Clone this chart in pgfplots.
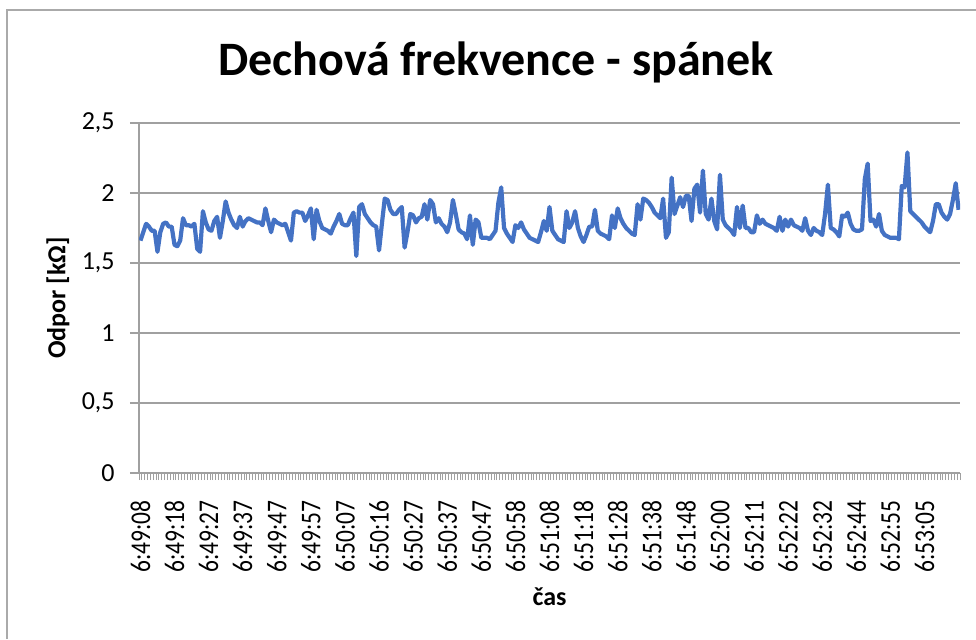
\documentclass[border=0pt]{standalone}
\usepackage{fontspec}
\setmainfont{Carlito}
\newfontfamily\tickfont{Carlito}[FakeStretch=0.82]
\usepackage{pgfplots}
\pgfplotsset{compat=1.18}
\usepackage{pgfplotstable}

\definecolor{exblue}{HTML}{4472C4}
\definecolor{gridgray}{RGB}{160,160,160}
\definecolor{framegray}{RGB}{170,170,170}

% one value per sample
\pgfplotstableread{
v
1.66
1.72
1.78
1.76
1.73
1.73
1.58
1.72
1.78
1.79
1.76
1.76
1.63
1.62
1.66
1.82
1.77
1.77
1.76
1.78
1.60
1.58
1.87
1.79
1.74
1.73
1.80
1.83
1.68
1.80
1.94
1.86
1.81
1.77
1.75
1.83
1.76
1.80
1.82
1.81
1.80
1.79
1.79
1.77
1.89
1.80
1.72
1.81
1.79
1.78
1.77
1.78
1.72
1.66
1.86
1.87
1.86
1.86
1.80
1.84
1.89
1.67
1.88
1.80
1.75
1.74
1.73
1.71
1.76
1.80
1.85
1.78
1.77
1.77
1.82
1.86
1.55
1.90
1.92
1.85
1.82
1.79
1.77
1.76
1.59
1.78
1.96
1.95
1.88
1.85
1.85
1.88
1.90
1.61
1.72
1.85
1.84
1.79
1.82
1.83
1.92
1.81
1.95
1.92
1.79
1.82
1.78
1.76
1.72
1.79
1.95
1.85
1.74
1.72
1.71
1.67
1.84
1.63
1.81
1.79
1.68
1.68
1.68
1.67
1.70
1.73
1.93
2.04
1.75
1.71
1.68
1.65
1.77
1.75
1.79
1.74
1.71
1.68
1.67
1.66
1.65
1.72
1.80
1.73
1.90
1.73
1.70
1.67
1.66
1.65
1.87
1.75
1.79
1.87
1.75
1.69
1.65
1.70
1.76
1.76
1.88
1.73
1.71
1.70
1.69
1.67
1.84
1.75
1.89
1.82
1.78
1.75
1.73
1.71
1.70
1.92
1.81
1.96
1.95
1.93
1.90
1.86
1.84
1.82
1.96
1.68
1.72
2.11
1.85
1.91
1.97
1.90
1.98
1.98
1.80
2.03
2.06
1.86
2.16
1.85
1.81
1.96
1.80
1.74
2.13
1.81
1.77
1.75
1.73
1.70
1.90
1.75
1.91
1.75
1.75
1.72
1.72
1.84
1.78
1.81
1.78
1.77
1.76
1.75
1.73
1.83
1.73
1.81
1.76
1.81
1.77
1.76
1.75
1.73
1.82
1.73
1.70
1.75
1.73
1.72
1.70
1.85
2.06
1.75
1.74
1.72
1.69
1.84
1.83
1.86
1.78
1.74
1.73
1.73
1.74
2.10
2.21
1.80
1.81
1.76
1.85
1.73
1.70
1.69
1.68
1.68
1.68
1.67
2.05
2.04
2.29
1.87
1.85
1.83
1.81
1.79
1.76
1.74
1.72
1.80
1.92
1.92
1.86
1.83
1.81
1.85
1.95
2.07
1.88
}\resdata

\begin{document}
\begin{tikzpicture}
\useasboundingbox (0,0) rectangle (488pt,319.5pt);
\draw[framegray, line width=0.8pt] (3.5pt,0) -- (3.5pt,314.5pt) -- (488pt,314.5pt);

\begin{axis}[
  at={(69.5pt,83pt)}, anchor=south west,
  scale only axis, width=410.5pt, height=175pt,
  xmin=-0.5, xmax=288.5, ymin=0, ymax=2.5,
  axis x line=bottom, axis y line=left,
  axis line style={-, draw=gridgray, line width=0.8pt},
  ymajorgrids, grid style={gridgray, line width=0.8pt},
  ytick={0,0.5,1,1.5,2,2.5},
  yticklabels={0,{0,5},1,{1,5},2,{2,5}},
  xtick={0,12,...,276},
  xticklabels={6:49:08,6:49:18,6:49:27,6:49:37,6:49:47,6:49:57,
    6:50:07,6:50:16,6:50:27,6:50:37,6:50:47,6:50:58,
    6:51:08,6:51:18,6:51:28,6:51:38,6:51:48,6:52:00,
    6:52:11,6:52:22,6:52:32,6:52:44,6:52:55,6:53:05},
  minor xtick={-0.5,0.5,...,288.5},
  tick align=outside,
  major tick length=4.5pt, minor tick length=3.5pt,
  major x tick style={draw=none},
  major y tick style={gridgray, line width=0.8pt},
  minor x tick style={gridgray, line width=0.5pt},
  yticklabel style={font=\fontsize{13}{15}\selectfont, anchor=east, inner sep=0pt},
  yticklabel shift=7.5pt,
  xticklabel style={font=\tickfont\fontsize{14.3}{16}\selectfont, rotate=90, anchor=east, inner sep=0pt},
  xticklabel shift=9pt,
]
\addplot[exblue, line width=2.1pt, line join=round, no marks]
  table[x expr=\coordindex, y=v] {\resdata};
\end{axis}

\node[font=\fontsize{24}{28}\selectfont\bfseries] at (248pt,288.5pt) {Dechová frekvence - spánek};
\node[font=\fontsize{13}{15}\selectfont\bfseries, rotate=90] at (29pt,170.5pt) {Odpor [kΩ]};
\node[font=\fontsize{13}{15}\selectfont\bfseries] at (274.75pt,21pt) {čas};
\end{tikzpicture}
\end{document}
